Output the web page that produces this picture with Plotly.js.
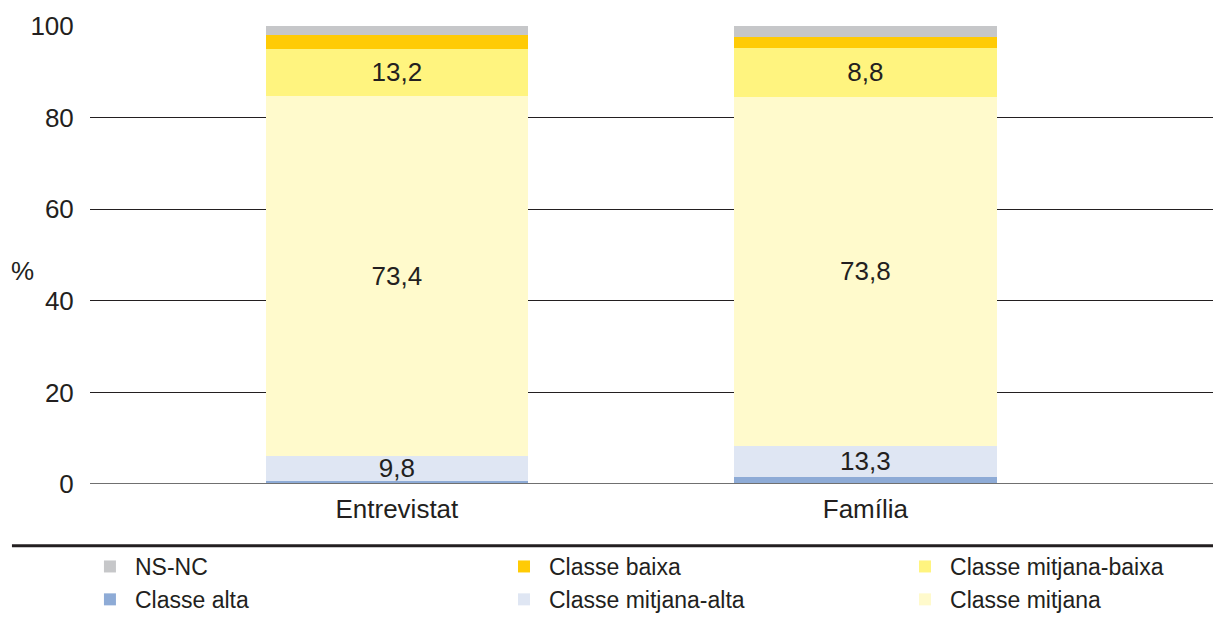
<!DOCTYPE html>
<html>
<head>
<meta charset="utf-8">
<script src="https://cdn.plot.ly/plotly-3.0.1.min.js"></script>
<style>html,body{margin:0;padding:0;background:#fff;}#chart{width:1213px;height:617px;}</style>
</head>
<body>
<div id="chart"></div>
<script>
const categories = ["Entrevistat", "Família"];
const seriesNames = ["Classe alta", "Classe mitjana-alta", "Classe mitjana", "Classe mitjana-baixa", "Classe baixa", "NS-NC"];
const classeAlta = [0.7, 1.5];
const classeMitjanaAlta = [5.5, 6.9];
const classeMitjana = [78.5, 76.2];
const classeMitjanaBaixa = [10.3, 10.5];
const classeBaixa = [3.1, 2.4];
const nsNc = [1.9, 2.5];
const labelsMitjanaAlta = ["9,8", "13,3"];
const labelsMitjana = ["73,4", "73,8"];
const labelsMitjanaBaixa = ["13,2", "8,8"];
const yTicks = [0, 20, 40, 60, 80, 100];

const FONT = "'Liberation Sans', Arial, sans-serif";
const colors = ["#8eabd6", "#dfe6f3", "#fffacc", "#fff47f", "#ffcb05", "#c6c7c9"];
const values = [classeAlta, classeMitjanaAlta, classeMitjana, classeMitjanaBaixa, classeBaixa, nsNc];
const texts = [null, labelsMitjanaAlta, labelsMitjana, labelsMitjanaBaixa, null, null];
// legend columns as in the reference: col1 NS-NC / Classe alta, col2 baixa / mitjana-alta, col3 mitjana-baixa / mitjana
const legendOf = ["legend", "legend2", "legend3", "legend3", "legend2", "legend"];
const ranks = [2, 2, 2, 1, 1, 1];

const traces = values.map((v, i) => ({
  type: "bar",
  name: seriesNames[i],
  x: categories,
  y: v,
  width: 0.56,
  marker: {color: colors[i], line: {width: 0}},
  text: texts[i] || undefined,
  textposition: texts[i] ? "inside" : "none",
  insidetextanchor: "middle",
  textangle: 0,
  constraintext: "none",
  textfont: {family: FONT, size: 26, color: "#231f20"},
  legend: legendOf[i],
  legendrank: ranks[i],
  hoverinfo: "skip"
}));

const legendBase = (x) => ({
  orientation: "v",
  x: x, y: -0.1332, xanchor: "left", yanchor: "top",
  itemwidth: 40,
  traceorder: "normal",
  font: {family: FONT, size: 23, color: "#231f20"},
  bgcolor: "rgba(0,0,0,0)",
  borderwidth: 0
});

const layout = {
  width: 1213, height: 617,
  margin: {l: 90, r: 0, t: 26, b: 133, autoexpand: false},
  paper_bgcolor: "#fff", plot_bgcolor: "#fff",
  barmode: "stack",
  font: {family: FONT, size: 26, color: "#231f20"},
  xaxis: {
    range: [-0.655, 1.742],
    showgrid: false, zeroline: false, showline: false,
    ticks: "outside", ticklen: 2, tickcolor: "rgba(0,0,0,0)",
    tickfont: {family: FONT, size: 26, color: "#231f20"},
    fixedrange: true
  },
  yaxis: {
    range: [0, 100],
    tickvals: yTicks,
    ticktext: yTicks.map(String),
    showgrid: true, gridcolor: "#231f20", gridwidth: 1,
    zeroline: false, showline: false,
    ticks: "outside", ticklen: 10, tickcolor: "rgba(0,0,0,0)",
    tickfont: {family: FONT, size: 26, color: "#231f20"},
    fixedrange: true
  },
  shapes: [
    {type: "line", xref: "paper", yref: "y", x0: 0, x1: 1, y0: 0, y1: 0, line: {color: "#707070", width: 2}},
    {type: "line", xref: "paper", yref: "paper", x0: -0.0695, x1: 1, y0: -0.135, y1: -0.135, line: {color: "#231f20", width: 3}}
  ],
  annotations: [
    {text: "%", xref: "paper", yref: "paper", x: -0.06, y: 0.465, xanchor: "center", yanchor: "middle", showarrow: false, font: {family: FONT, size: 26, color: "#231f20"}}
  ],
  showlegend: true,
  legend: legendBase(-0.0045),
  legend2: legendBase(0.3642),
  legend3: legendBase(0.7213)
};

Plotly.newPlot("chart", traces, layout, {displayModeBar: false, staticPlot: true});
</script>
</body>
</html>
